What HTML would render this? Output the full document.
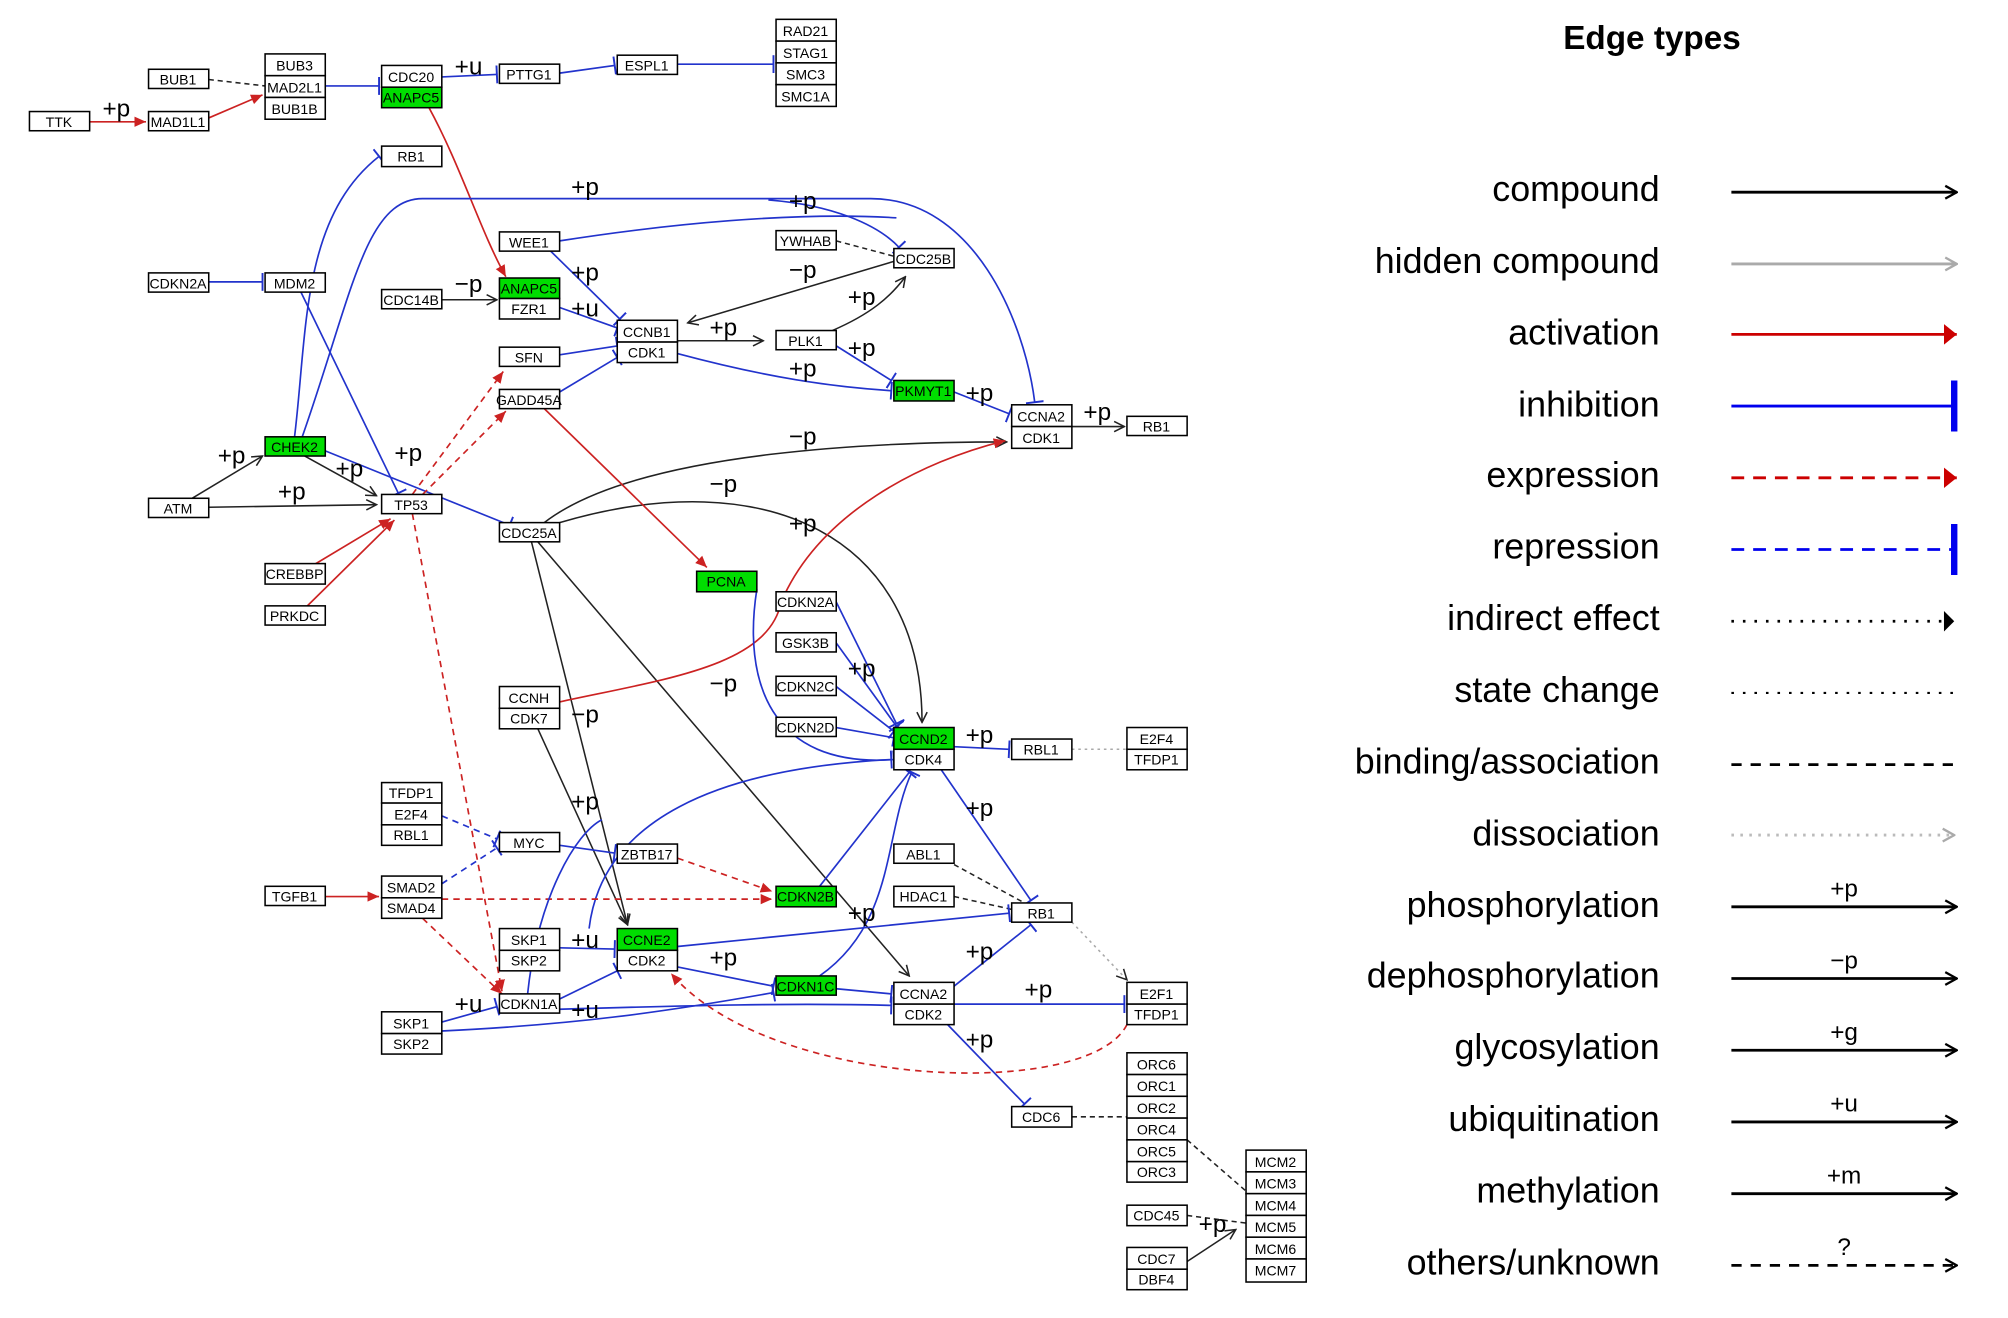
<!DOCTYPE html>
<html><head><meta charset="utf-8"><style>
html,body{margin:0;padding:0;background:#fff;}
svg{display:block;}
.n rect{fill:#fff;stroke:#000;stroke-width:1.2;}
.n rect.g{fill:#00dd00;}
.n text{font-family:"Liberation Sans",sans-serif;font-size:11px;text-anchor:middle;}
.l{font-family:"Liberation Sans",sans-serif;font-size:19px;}
.lg{font-family:"Liberation Sans",sans-serif;font-size:28px;text-anchor:end;}
.b{stroke:#2233cc;fill:none;stroke-width:1.3;}
.r{stroke:#cc2222;fill:none;stroke-width:1.3;}
.k{stroke:#222;fill:none;stroke-width:1.2;}
.rd{stroke:#cc2222;fill:none;stroke-width:1.3;stroke-dasharray:5,4;}
.bd{stroke:#2233cc;fill:none;stroke-width:1.3;stroke-dasharray:5,4;}
.kd{stroke:#222;fill:none;stroke-width:1.2;stroke-dasharray:4,3;}
.gd{stroke:#aaa;fill:none;stroke-width:1.2;stroke-dasharray:2,3;}
</style></head><body>
<svg width="2008" height="1318" viewBox="0 0 1568 1029" xmlns="http://www.w3.org/2000/svg">
<defs>
<marker id="ak" markerWidth="10" markerHeight="10" refX="9" refY="5" orient="auto" markerUnits="userSpaceOnUse"><path d="M1,1 L9,5 L1,9" fill="none" stroke="#222" stroke-width="1.2"/></marker>
<marker id="ar" markerWidth="10" markerHeight="10" refX="9" refY="5" orient="auto" markerUnits="userSpaceOnUse"><path d="M0,1 L9,5 L0,9 z" fill="#cc2222"/></marker>
<marker id="tb" markerWidth="4" markerHeight="14" refX="2" refY="7" orient="auto" markerUnits="userSpaceOnUse"><path d="M2,0 L2,14" stroke="#2233cc" stroke-width="1.5"/></marker>
<marker id="La" markerWidth="12" markerHeight="14" refX="11" refY="7" orient="auto" markerUnits="userSpaceOnUse"><path d="M2,2 L11,7 L2,12" fill="none" stroke="#000" stroke-width="1.8"/></marker>
<marker id="Lg" markerWidth="12" markerHeight="14" refX="11" refY="7" orient="auto" markerUnits="userSpaceOnUse"><path d="M2,2 L11,7 L2,12" fill="none" stroke="#aaa" stroke-width="1.8"/></marker>
<marker id="Lr" markerWidth="12" markerHeight="20" refX="10" refY="10" orient="auto" markerUnits="userSpaceOnUse"><path d="M0,2 L10,10 L0,18 z" fill="#cc0000"/></marker>
<marker id="Lk" markerWidth="12" markerHeight="20" refX="10" refY="10" orient="auto" markerUnits="userSpaceOnUse"><path d="M2,2 L10,10 L2,18 z" fill="#000"/></marker>
<marker id="Lt" markerWidth="6" markerHeight="40" refX="3" refY="20" orient="auto" markerUnits="userSpaceOnUse"><path d="M3,0 L3,40" stroke="#0000ee" stroke-width="5"/></marker>
</defs>

<g>
<path class="r" d="M70,95 L114,95" marker-end="url(#ar)"/>
<path class="r" d="M163,92 L205,74" marker-end="url(#ar)"/>
<path class="kd" d="M163,62 L207,67"/>
<path class="b" d="M254,67 L296,67" marker-end="url(#tb)"/>
<path class="b" d="M345,60 L388,58" marker-end="url(#tb)"/>
<path class="b" d="M437,57 L480,51" marker-end="url(#tb)"/>
<path class="b" d="M529,50 L604,50" marker-end="url(#tb)"/>
<path class="r" d="M335,84 C360,130 375,180 395,216" marker-end="url(#ar)"/>
<path class="b" d="M230,341 C240,260 235,170 296,122" marker-end="url(#tb)"/>
<path class="b" d="M236,341 C275,230 285,155 330,155 L680,155 C760,155 800,250 808,314" marker-end="url(#tb)"/>
<path class="b" d="M600,156 C650,160 685,175 702,193" marker-end="url(#tb)"/>
<path class="b" d="M437,188 C520,175 620,165 700,170"/>
<path class="b" d="M430,196 L484,249" marker-end="url(#tb)"/>
<path class="b" d="M163,220 L205,220" marker-end="url(#tb)"/>
<path class="b" d="M235,228 L311,385" marker-end="url(#tb)"/>
<path class="k" d="M345,234 L388,234" marker-end="url(#ak)"/>
<path class="b" d="M437,240 L482,256" marker-end="url(#tb)"/>
<path class="b" d="M437,277 L482,270" marker-end="url(#tb)"/>
<path class="b" d="M437,306 L482,279" marker-end="url(#tb)"/>
<path class="k" d="M529,266 L596,266" marker-end="url(#ak)"/>
<path class="k" d="M698,204 L537,252" marker-end="url(#ak)"/>
<path class="kd" d="M653,188 L698,200"/>
<path class="k" d="M650,258 C680,245 695,232 707,216" marker-end="url(#ak)"/>
<path class="b" d="M653,270 L696,297" marker-end="url(#tb)"/>
<path class="b" d="M529,276 C600,295 650,302 696,305" marker-end="url(#tb)"/>
<path class="b" d="M745,306 L788,323" marker-end="url(#tb)"/>
<path class="k" d="M837,333 L878,333" marker-end="url(#ak)"/>
<path class="k" d="M425,408 C500,350 700,345 786,345" marker-end="url(#ak)"/>
<path class="k" d="M437,408 C600,360 720,420 720,564" marker-end="url(#ak)"/>
<path class="k" d="M420,423 L710,762" marker-end="url(#ak)"/>
<path class="k" d="M415,423 L490,722" marker-end="url(#ak)"/>
<path class="b" d="M254,352 L398,410" marker-end="url(#tb)"/>
<path class="k" d="M150,389 L205,356" marker-end="url(#ak)"/>
<path class="k" d="M163,396 L294,394" marker-end="url(#ak)"/>
<path class="k" d="M238,356 L294,387" marker-end="url(#ak)"/>
<path class="rd" d="M322,386 L393,290" marker-end="url(#ar)"/>
<path class="rd" d="M330,386 L395,321" marker-end="url(#ar)"/>
<path class="rd" d="M322,401 L392,774" marker-end="url(#ar)"/>
<path class="r" d="M245,441 L305,405" marker-end="url(#ar)"/>
<path class="r" d="M240,473 L308,406" marker-end="url(#ar)"/>
<path class="r" d="M425,319 L552,443" marker-end="url(#ar)"/>
<path class="r" d="M437,548 C520,530 600,520 610,470 C640,400 720,360 785,344" marker-end="url(#ar)"/>
<path class="k" d="M420,569 L490,722" marker-end="url(#ak)"/>
<path class="b" d="M653,470 L700,565" marker-end="url(#tb)"/>
<path class="b" d="M653,502 L700,567" marker-end="url(#tb)"/>
<path class="b" d="M653,536 L698,571" marker-end="url(#tb)"/>
<path class="b" d="M653,568 L698,576" marker-end="url(#tb)"/>
<path class="b" d="M591,460 C580,530 600,600 698,593" marker-end="url(#tb)"/>
<path class="b" d="M745,583 L788,585" marker-end="url(#tb)"/>
<path class="gd" d="M837,585 L880,585"/>
<path class="b" d="M735,601 L805,703" marker-end="url(#tb)"/>
<path class="b" d="M460,725 C470,640 560,600 696,593" marker-end="url(#tb)"/>
<path class="rd" d="M529,670 L603,696" marker-end="url(#ar)"/>
<path class="b" d="M437,660 L480,666" marker-end="url(#tb)"/>
<path class="bd" d="M345,637 L388,655" marker-end="url(#tb)"/>
<path class="bd" d="M345,690 L388,662" marker-end="url(#tb)"/>
<path class="r" d="M254,700 L296,700" marker-end="url(#ar)"/>
<path class="rd" d="M345,702 L603,702" marker-end="url(#ar)"/>
<path class="rd" d="M330,717 L392,776" marker-end="url(#ar)"/>
<path class="b" d="M640,692 L710,603" marker-end="url(#tb)"/>
<path class="kd" d="M745,675 L800,705"/>
<path class="kd" d="M745,700 L790,710"/>
<path class="b" d="M437,740 L480,741" marker-end="url(#tb)"/>
<path class="b" d="M529,739 L788,713" marker-end="url(#tb)"/>
<path class="b" d="M529,755 L604,770" marker-end="url(#tb)"/>
<path class="b" d="M653,772 L696,776" marker-end="url(#tb)"/>
<path class="b" d="M640,762 C700,720 690,650 712,603" marker-end="url(#tb)"/>
<path class="b" d="M437,780 L482,758" marker-end="url(#tb)"/>
<path class="b" d="M437,788 C540,785 620,783 696,785" marker-end="url(#tb)"/>
<path class="b" d="M345,798 L388,786" marker-end="url(#tb)"/>
<path class="b" d="M345,805 C450,800 520,790 604,775" marker-end="url(#tb)"/>
<path class="b" d="M412,776 C420,700 450,650 470,640"/>
<path class="b" d="M745,784 L878,784" marker-end="url(#tb)"/>
<path class="b" d="M745,770 L805,722" marker-end="url(#tb)"/>
<path class="b" d="M740,800 L800,862" marker-end="url(#tb)"/>
<path class="rd" d="M880,800 C850,860 600,850 524,760" marker-end="url(#ar)"/>
<path class="gd" d="M837,720 L880,765" marker-end="url(#ak)"/>
<path class="kd" d="M837,872 L880,872"/>
<path class="kd" d="M927,890 L973,930"/>
<path class="kd" d="M927,949 L973,955"/>
<path class="k" d="M927,985 L965,960" marker-end="url(#ak)"/>
</g>

<g class="l">
<text x="80" y="91">+p</text><text x="355" y="58">+u</text>
<text x="446" y="152">+p</text><text x="616" y="163">+p</text>
<text x="446" y="219">+p</text><text x="446" y="247">+u</text>
<text x="355" y="228">−p</text><text x="554" y="262">+p</text>
<text x="616" y="217">−p</text><text x="662" y="238">+p</text>
<text x="662" y="278">+p</text><text x="616" y="294">+p</text>
<text x="754" y="313">+p</text><text x="846" y="328">+p</text>
<text x="616" y="347">−p</text><text x="554" y="384">−p</text>
<text x="616" y="415">+p</text><text x="170" y="362">+p</text>
<text x="217" y="390">+p</text><text x="262" y="372">+p</text>
<text x="308" y="360">+p</text><text x="554" y="540">−p</text>
<text x="446" y="564">−p</text><text x="446" y="632">+p</text>
<text x="662" y="528">+p</text><text x="754" y="580">+p</text>
<text x="754" y="637">+p</text><text x="662" y="719">+p</text>
<text x="446" y="740">+u</text><text x="554" y="754">+p</text>
<text x="754" y="749">+p</text><text x="800" y="779">+p</text>
<text x="446" y="795">+u</text><text x="355" y="790">+u</text>
<text x="754" y="818">+p</text><text x="936" y="962">+p</text>
</g>

<g class="n">
<rect x="23" y="87" width="47" height="15"/><text x="46" y="99">TTK</text>
<rect x="116" y="87" width="47" height="15"/><text x="139" y="99">MAD1L1</text>
<rect x="116" y="54" width="47" height="15"/><text x="139" y="66">BUB1</text>
<rect x="207" y="42" width="47" height="17"/><text x="230" y="55">BUB3</text>
<rect x="207" y="59" width="47" height="17"/><text x="230" y="72">MAD2L1</text>
<rect x="207" y="76" width="47" height="17"/><text x="230" y="89">BUB1B</text>
<rect x="298" y="51" width="47" height="17"/><text x="321" y="64">CDC20</text>
<rect class="g" x="298" y="68" width="47" height="16"/><text x="321" y="80">ANAPC5</text>
<rect x="390" y="50" width="47" height="15"/><text x="413" y="62">PTTG1</text>
<rect x="482" y="43" width="47" height="15"/><text x="505" y="55">ESPL1</text>
<rect x="606" y="15" width="47" height="17"/><text x="629" y="28">RAD21</text>
<rect x="606" y="32" width="47" height="17"/><text x="629" y="45">STAG1</text>
<rect x="606" y="49" width="47" height="17"/><text x="629" y="62">SMC3</text>
<rect x="606" y="66" width="47" height="17"/><text x="629" y="79">SMC1A</text>
<rect x="298" y="114" width="47" height="16"/><text x="321" y="126">RB1</text>
<rect x="116" y="213" width="47" height="15"/><text x="139" y="225">CDKN2A</text>
<rect x="207" y="213" width="47" height="15"/><text x="230" y="225">MDM2</text>
<rect x="390" y="181" width="47" height="15"/><text x="413" y="193">WEE1</text>
<rect x="606" y="180" width="47" height="15"/><text x="629" y="192">YWHAB</text>
<rect x="698" y="194" width="47" height="15"/><text x="721" y="206">CDC25B</text>
<rect class="g" x="390" y="217" width="47" height="16"/><text x="413" y="229">ANAPC5</text>
<rect x="390" y="233" width="47" height="16"/><text x="413" y="245">FZR1</text>
<rect x="298" y="226" width="47" height="15"/><text x="321" y="238">CDC14B</text>
<rect x="482" y="250" width="47" height="17"/><text x="505" y="263">CCNB1</text>
<rect x="482" y="267" width="47" height="16"/><text x="505" y="279">CDK1</text>
<rect x="390" y="271" width="47" height="15"/><text x="413" y="283">SFN</text>
<rect x="606" y="258" width="47" height="15"/><text x="629" y="270">PLK1</text>
<rect x="390" y="304" width="47" height="15"/><text x="413" y="316">GADD45A</text>
<rect class="g" x="698" y="297" width="47" height="16"/><text x="721" y="309">PKMYT1</text>
<rect x="790" y="316" width="47" height="17"/><text x="813" y="329">CCNA2</text>
<rect x="790" y="333" width="47" height="17"/><text x="813" y="346">CDK1</text>
<rect x="880" y="325" width="47" height="15"/><text x="903" y="337">RB1</text>
<rect class="g" x="207" y="341" width="47" height="15"/><text x="230" y="353">CHEK2</text>
<rect x="116" y="389" width="47" height="15"/><text x="139" y="401">ATM</text>
<rect x="298" y="386" width="47" height="15"/><text x="321" y="398">TP53</text>
<rect x="390" y="408" width="47" height="15"/><text x="413" y="420">CDC25A</text>
<rect x="207" y="440" width="47" height="16"/><text x="230" y="452">CREBBP</text>
<rect x="207" y="473" width="47" height="15"/><text x="230" y="485">PRKDC</text>
<rect class="g" x="544" y="446" width="47" height="16"/><text x="567" y="458">PCNA</text>
<rect x="606" y="462" width="47" height="15"/><text x="629" y="474">CDKN2A</text>
<rect x="606" y="494" width="47" height="15"/><text x="629" y="506">GSK3B</text>
<rect x="606" y="528" width="47" height="15"/><text x="629" y="540">CDKN2C</text>
<rect x="606" y="560" width="47" height="15"/><text x="629" y="572">CDKN2D</text>
<rect x="390" y="536" width="47" height="17"/><text x="413" y="549">CCNH</text>
<rect x="390" y="553" width="47" height="16"/><text x="413" y="565">CDK7</text>
<rect class="g" x="698" y="568" width="47" height="17"/><text x="721" y="581">CCND2</text>
<rect x="698" y="585" width="47" height="16"/><text x="721" y="597">CDK4</text>
<rect x="790" y="577" width="47" height="16"/><text x="813" y="589">RBL1</text>
<rect x="880" y="568" width="47" height="17"/><text x="903" y="581">E2F4</text>
<rect x="880" y="585" width="47" height="16"/><text x="903" y="597">TFDP1</text>
<rect x="298" y="611" width="47" height="16"/><text x="321" y="623">TFDP1</text>
<rect x="298" y="627" width="47" height="17"/><text x="321" y="640">E2F4</text>
<rect x="298" y="644" width="47" height="16"/><text x="321" y="656">RBL1</text>
<rect x="390" y="650" width="47" height="15"/><text x="413" y="662">MYC</text>
<rect x="482" y="659" width="47" height="15"/><text x="505" y="671">ZBTB17</text>
<rect x="698" y="659" width="47" height="15"/><text x="721" y="671">ABL1</text>
<rect x="207" y="692" width="47" height="15"/><text x="230" y="704">TGFB1</text>
<rect x="298" y="684" width="47" height="17"/><text x="321" y="697">SMAD2</text>
<rect x="298" y="701" width="47" height="16"/><text x="321" y="713">SMAD4</text>
<rect class="g" x="606" y="692" width="47" height="16"/><text x="629" y="704">CDKN2B</text>
<rect x="698" y="692" width="47" height="16"/><text x="721" y="704">HDAC1</text>
<rect x="790" y="705" width="47" height="15"/><text x="813" y="717">RB1</text>
<rect x="390" y="725" width="47" height="17"/><text x="413" y="738">SKP1</text>
<rect x="390" y="742" width="47" height="16"/><text x="413" y="754">SKP2</text>
<rect class="g" x="482" y="725" width="47" height="17"/><text x="505" y="738">CCNE2</text>
<rect x="482" y="742" width="47" height="16"/><text x="505" y="754">CDK2</text>
<rect class="g" x="606" y="762" width="47" height="15"/><text x="629" y="774">CDKN1C</text>
<rect x="390" y="776" width="47" height="15"/><text x="413" y="788">CDKN1A</text>
<rect x="698" y="767" width="47" height="17"/><text x="721" y="780">CCNA2</text>
<rect x="698" y="784" width="47" height="16"/><text x="721" y="796">CDK2</text>
<rect x="880" y="767" width="47" height="17"/><text x="903" y="780">E2F1</text>
<rect x="880" y="784" width="47" height="16"/><text x="903" y="796">TFDP1</text>
<rect x="298" y="790" width="47" height="17"/><text x="321" y="803">SKP1</text>
<rect x="298" y="807" width="47" height="16"/><text x="321" y="819">SKP2</text>
<rect x="880" y="822" width="47" height="17"/><text x="903" y="835">ORC6</text>
<rect x="880" y="839" width="47" height="17"/><text x="903" y="852">ORC1</text>
<rect x="880" y="856" width="47" height="17"/><text x="903" y="869">ORC2</text>
<rect x="880" y="873" width="47" height="17"/><text x="903" y="886">ORC4</text>
<rect x="880" y="890" width="47" height="17"/><text x="903" y="903">ORC5</text>
<rect x="880" y="907" width="47" height="16"/><text x="903" y="919">ORC3</text>
<rect x="790" y="864" width="47" height="16"/><text x="813" y="876">CDC6</text>
<rect x="973" y="898" width="47" height="17"/><text x="996" y="911">MCM2</text>
<rect x="973" y="915" width="47" height="17"/><text x="996" y="928">MCM3</text>
<rect x="973" y="932" width="47" height="17"/><text x="996" y="945">MCM4</text>
<rect x="973" y="949" width="47" height="17"/><text x="996" y="962">MCM5</text>
<rect x="973" y="966" width="47" height="17"/><text x="996" y="979">MCM6</text>
<rect x="973" y="983" width="47" height="18"/><text x="996" y="996">MCM7</text>
<rect x="880" y="941" width="47" height="16"/><text x="903" y="953">CDC45</text>
<rect x="880" y="974" width="47" height="17"/><text x="903" y="987">CDC7</text>
<rect x="880" y="991" width="47" height="16"/><text x="903" y="1003">DBF4</text>
</g>

<text x="1290" y="38" font-family="Liberation Sans,sans-serif" font-size="26" font-weight="bold" text-anchor="middle">Edge types</text>
<g class="lg">
<text x="1296" y="157">compound</text>
<text x="1296" y="213">hidden compound</text>
<text x="1296" y="269">activation</text>
<text x="1296" y="325">inhibition</text>
<text x="1296" y="380">expression</text>
<text x="1296" y="436">repression</text>
<text x="1296" y="492">indirect effect</text>
<text x="1296" y="548">state change</text>
<text x="1296" y="604">binding/association</text>
<text x="1296" y="660">dissociation</text>
<text x="1296" y="716">phosphorylation</text>
<text x="1296" y="771">dephosphorylation</text>
<text x="1296" y="827">glycosylation</text>
<text x="1296" y="883">ubiquitination</text>
<text x="1296" y="939">methylation</text>
<text x="1296" y="995">others/unknown</text>
</g>
<g stroke-width="2.2" fill="none">
<path d="M1352,150 L1528,150" stroke="#000" marker-end="url(#La)"/>
<path d="M1352,206 L1528,206" stroke="#aaa" marker-end="url(#Lg)"/>
<path d="M1352,261 L1528,261" stroke="#cc0000" marker-end="url(#Lr)"/>
<path d="M1352,317 L1526,317" stroke="#0000ee" marker-end="url(#Lt)"/>
<path d="M1352,373 L1528,373" stroke="#cc0000" stroke-dasharray="10,7" marker-end="url(#Lr)"/>
<path d="M1352,429 L1526,429" stroke="#0000ee" stroke-dasharray="10,7" marker-end="url(#Lt)"/>
<path d="M1352,485 L1526,485" stroke="#000" stroke-dasharray="2,7" marker-end="url(#Lk)"/>
<path d="M1352,541 L1528,541" stroke="#000" stroke-width="1.6" stroke-dasharray="2,7"/>
<path d="M1352,597 L1528,597" stroke="#000" stroke-dasharray="8,7"/>
<path d="M1352,652 L1526,652" stroke="#bbb" stroke-dasharray="2,5" marker-end="url(#Lg)"/>
<path d="M1352,708 L1528,708" stroke="#000" marker-end="url(#La)"/>
<path d="M1352,764 L1528,764" stroke="#000" marker-end="url(#La)"/>
<path d="M1352,820 L1528,820" stroke="#000" marker-end="url(#La)"/>
<path d="M1352,876 L1528,876" stroke="#000" marker-end="url(#La)"/>
<path d="M1352,932 L1528,932" stroke="#000" marker-end="url(#La)"/>
<path d="M1352,988 L1528,988" stroke="#000" stroke-dasharray="8,7" marker-end="url(#La)"/>
</g>
<g font-family="Liberation Sans,sans-serif" font-size="19" text-anchor="middle">
<text x="1440" y="700">+p</text><text x="1440" y="756">−p</text>
<text x="1440" y="812">+g</text><text x="1440" y="868">+u</text>
<text x="1440" y="924">+m</text><text x="1440" y="980">?</text>
</g>
</svg>
</body></html>
